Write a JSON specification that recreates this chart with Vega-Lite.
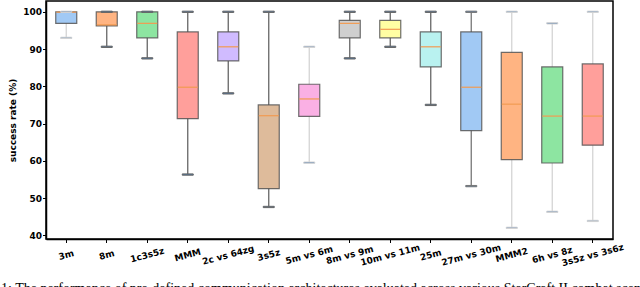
{
  "$schema": "https://vega.github.io/schema/vega-lite/v6.json",
  "autosize": {"type": "none"},
  "width": 567,
  "height": 238,
  "padding": {"left": 46, "top": 1, "right": 27, "bottom": 48},
  "background": "white",
  "title": {
    "text": "1: The performance of pre-defined communication architectures evaluated across various StarCraft II combat scenarios, with",
    "orient": "bottom",
    "anchor": "start",
    "frame": "group",
    "font": "Liberation Serif",
    "fontSize": 14,
    "fontWeight": "normal",
    "color": "black",
    "baseline": "alphabetic",
    "dx": -45,
    "dy": 25,
    "offset": 0
  },
  "config": {
    "view": {"stroke": "black", "strokeWidth": 1.5},
    "axis": {"labelFont": "DejaVu Sans", "titleFont": "DejaVu Sans", "labelColor": "black", "titleColor": "black", "domainColor": "black", "tickColor": "black"},
    "axisY": {
      "titleFontSize": 9,
      "titleFontWeight": "bold",
      "titlePadding": 5,
      "labelFontSize": 9,
      "labelFontWeight": "bold",
      "labelPadding": 1,
      "labelOverlap": false,
      "tickSize": 3.5,
      "tickWidth": 1,
      "grid": false,
      "domainWidth": 1.5
    }
  },
  "data": {
    "values": [
      {"scenario": "3m", "lower": 93.0, "q1": 96.9, "median": 99.9, "q3": 100, "upper": 100},
      {"scenario": "8m", "lower": 90.6, "q1": 96.2, "median": 96.5, "q3": 100, "upper": 100},
      {"scenario": "1c3s5z", "lower": 87.5, "q1": 93.0, "median": 96.9, "q3": 100, "upper": 100},
      {"scenario": "MMM", "lower": 56.3, "q1": 71.3, "median": 79.75, "q3": 94.6, "upper": 100},
      {"scenario": "2c vs 64zg", "lower": 78.1, "q1": 86.8, "median": 90.6, "q3": 94.6, "upper": 100},
      {"scenario": "3s5z", "lower": 47.6, "q1": 52.5, "median": 72.1, "q3": 75.0, "upper": 100},
      {"scenario": "5m vs 6m", "lower": 59.5, "q1": 71.9, "median": 76.6, "q3": 80.55, "upper": 90.6},
      {"scenario": "8m vs 9m", "lower": 87.5, "q1": 93.0, "median": 96.9, "q3": 97.7, "upper": 100},
      {"scenario": "10m vs 11m", "lower": 90.6, "q1": 93.0, "median": 95.3, "q3": 97.7, "upper": 100},
      {"scenario": "25m", "lower": 75.0, "q1": 85.2, "median": 90.6, "q3": 94.6, "upper": 100},
      {"scenario": "27m vs 30m", "lower": 53.2, "q1": 68.1, "median": 79.75, "q3": 94.6, "upper": 100},
      {"scenario": "MMM2", "lower": 42.0, "q1": 60.3, "median": 75.2, "q3": 89.1, "upper": 100},
      {"scenario": "6h vs 8z", "lower": 46.3, "q1": 59.4, "median": 72.0, "q3": 85.2, "upper": 96.9},
      {"scenario": "3s5z vs 3s6z", "lower": 43.85, "q1": 64.2, "median": 72.0, "q3": 86.0, "upper": 100}
    ]
  },
  "encoding": {
    "x": {
      "field": "scenario",
      "type": "nominal",
      "sort": null,
      "scale": {"type": "band", "paddingInner": 0, "paddingOuter": 0},
      "axis": {
        "title": null,
        "labelAngle": -15,
        "labelAlign": "center",
        "labelBaseline": "middle",
        "labelPadding": 12,
        "labelFontSize": 9,
        "labelFontWeight": "bold",
        "tickSize": 3.5,
        "tickWidth": 1,
        "domainWidth": 1.5
      }
    }
  },
  "layer": [
    {
      "mark": {"type": "rule", "strokeWidth": 1.3},
      "encoding": {
        "y": {
          "field": "lower",
          "type": "quantitative",
          "scale": {"domain": [39, 102.9], "nice": false, "zero": false},
          "axis": {"title": "success rate (%)", "values": [40, 50, 60, 70, 80, 90, 100]}
        },
        "y2": {"field": "upper"},
        "stroke": {
          "field": "scenario",
          "type": "nominal",
          "legend": null,
          "scale": {
            "domain": ["3m", "8m", "1c3s5z", "MMM", "2c vs 64zg", "3s5z", "5m vs 6m", "8m vs 9m", "10m vs 11m", "25m", "27m vs 30m", "MMM2", "6h vs 8z", "3s5z vs 3s6z"],
            "range": ["#d4d4d4", "#666666", "#666666", "#666666", "#666666", "#666666", "#d4d4d4", "#666666", "#666666", "#666666", "#777777", "#d4d4d4", "#d4d4d4", "#d4d4d4"]
          }
        }
      }
    },
    {
      "mark": {"type": "bar", "size": 21, "stroke": "#555555", "strokeWidth": 1.2, "strokeOpacity": 0.85},
      "encoding": {
        "y": {"field": "q1", "type": "quantitative", "axis": {"title": "success rate (%)", "values": [40, 50, 60, 70, 80, 90, 100]}},
        "y2": {"field": "q3"},
        "fill": {
          "field": "scenario",
          "type": "nominal",
          "legend": null,
          "scale": {
            "domain": ["3m", "8m", "1c3s5z", "MMM", "2c vs 64zg", "3s5z", "5m vs 6m", "8m vs 9m", "10m vs 11m", "25m", "27m vs 30m", "MMM2", "6h vs 8z", "3s5z vs 3s6z"],
            "range": ["#a1c9f4", "#ffb482", "#8de5a1", "#ff9f9b", "#d0bbff", "#debb9b", "#fab0e4", "#cfcfcf", "#fffea3", "#b9f2f0", "#a1c9f4", "#ffb482", "#8de5a1", "#ff9f9b"]
          }
        }
      }
    },
    {
      "mark": {"type": "tick", "size": 20, "thickness": 1.2, "color": "#f29b52", "opacity": 1},
      "encoding": {
        "y": {"field": "median", "type": "quantitative", "axis": {"title": "success rate (%)", "values": [40, 50, 60, 70, 80, 90, 100]}}
      }
    },
    {
      "mark": {"type": "tick", "size": 11, "thickness": 1.3, "opacity": 1},
      "encoding": {
        "y": {"field": "lower", "type": "quantitative", "axis": {"title": "success rate (%)", "values": [40, 50, 60, 70, 80, 90, 100]}},
        "stroke": {"field": "scenario", "type": "nominal", "legend": null}
      }
    },
    {
      "mark": {"type": "tick", "size": 11, "thickness": 1.3, "opacity": 1},
      "encoding": {
        "y": {"field": "upper", "type": "quantitative", "axis": {"title": "success rate (%)", "values": [40, 50, 60, 70, 80, 90, 100]}},
        "stroke": {"field": "scenario", "type": "nominal", "legend": null}
      }
    }
  ]
}
